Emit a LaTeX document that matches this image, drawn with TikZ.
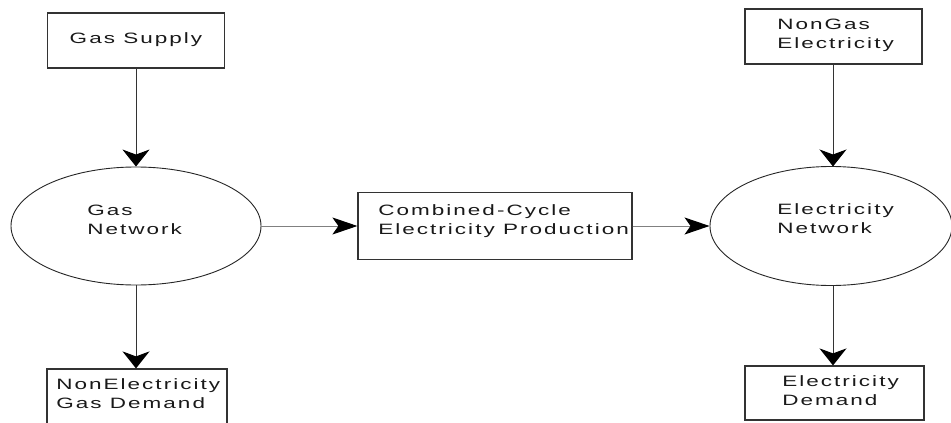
\documentclass[tikz,border=0pt]{standalone}
\usepackage{fontspec}
\setmainfont{Liberation Sans}[LetterSpace=9]
\usetikzlibrary{arrows.meta,shapes.geometric}
\begin{document}
\begin{tikzpicture}[x=1pt,y=1pt,
  box/.style={draw=black!80, line width=1.2pt, rectangle, inner sep=0pt},
  oval/.style={draw=black!85, line width=0.9pt, ellipse, inner sep=0pt, minimum width=#1},
  txt/.style={inner sep=0pt, align=left, xscale=1.5, text=black!90,
    font=\fontsize{15pt}{18.5pt}\selectfont},
  varrow/.style={draw=black!80, line width=1pt, -{Stealth[length=17pt,width=27pt,inset=5pt,color=black]}},
  harrow/.style={draw=black!50, line width=1pt, -{Stealth[length=25pt,width=17pt,inset=6pt,color=black]}}]
\useasboundingbox (0,0) rectangle (951,-423);
% nodes
\node[box, minimum width=177pt, minimum height=55pt] (gs) at (136,-40.5) {};
\node[oval=250pt, minimum height=118pt] (gn) at (136,-226) {};
\node[box, minimum width=180pt, minimum height=64pt] (ned) at (137,-401) {};
\node[box, minimum width=274pt, minimum height=67pt] (cc) at (495,-226) {};
\node[box, minimum width=177pt, minimum height=55pt] (nge) at (833.5,-36.5) {};
\node[oval=242pt, minimum height=119pt] (en) at (831,-226) {};
\node[box, minimum width=179pt, minimum height=54pt] (ed) at (834.5,-393) {};
% texts (base anchor = baseline of last line)
\node[txt, anchor=base] (gst) at (136,-43) {Gas Supply};
\node[txt, anchor=base west] (gnt) at (87,-234) {Gas\\Network};
\node[txt, anchor=base west] (nedt) at (56,-408) {NonElectricity\\Gas Demand};
\node[txt, anchor=base west] (cct) at (378,-234) {Combined-Cycle\\Electricity Production};
\node[txt, anchor=base west] (nget) at (777,-48) {NonGas\\Electricity};
\node[txt, anchor=base west] (ent) at (777,-233) {Electricity\\Network};
\node[txt, anchor=base west] (edt) at (782,-405) {Electricity\\Demand};
% connectors
\draw[varrow] (gs.south) -- (gn.north);
\draw[varrow] (gn.south) -- (gn.south |- ned.north);
\draw[harrow] (gn.east) -- (cc.west);
\draw[harrow] (cc.east) -- (en.west);
\draw[varrow] (nge.south -| 833,0) -- (833,-166.5);
\draw[varrow] (833,-285.5) -- (ed.north -| 833,0);
\end{tikzpicture}
\end{document}
